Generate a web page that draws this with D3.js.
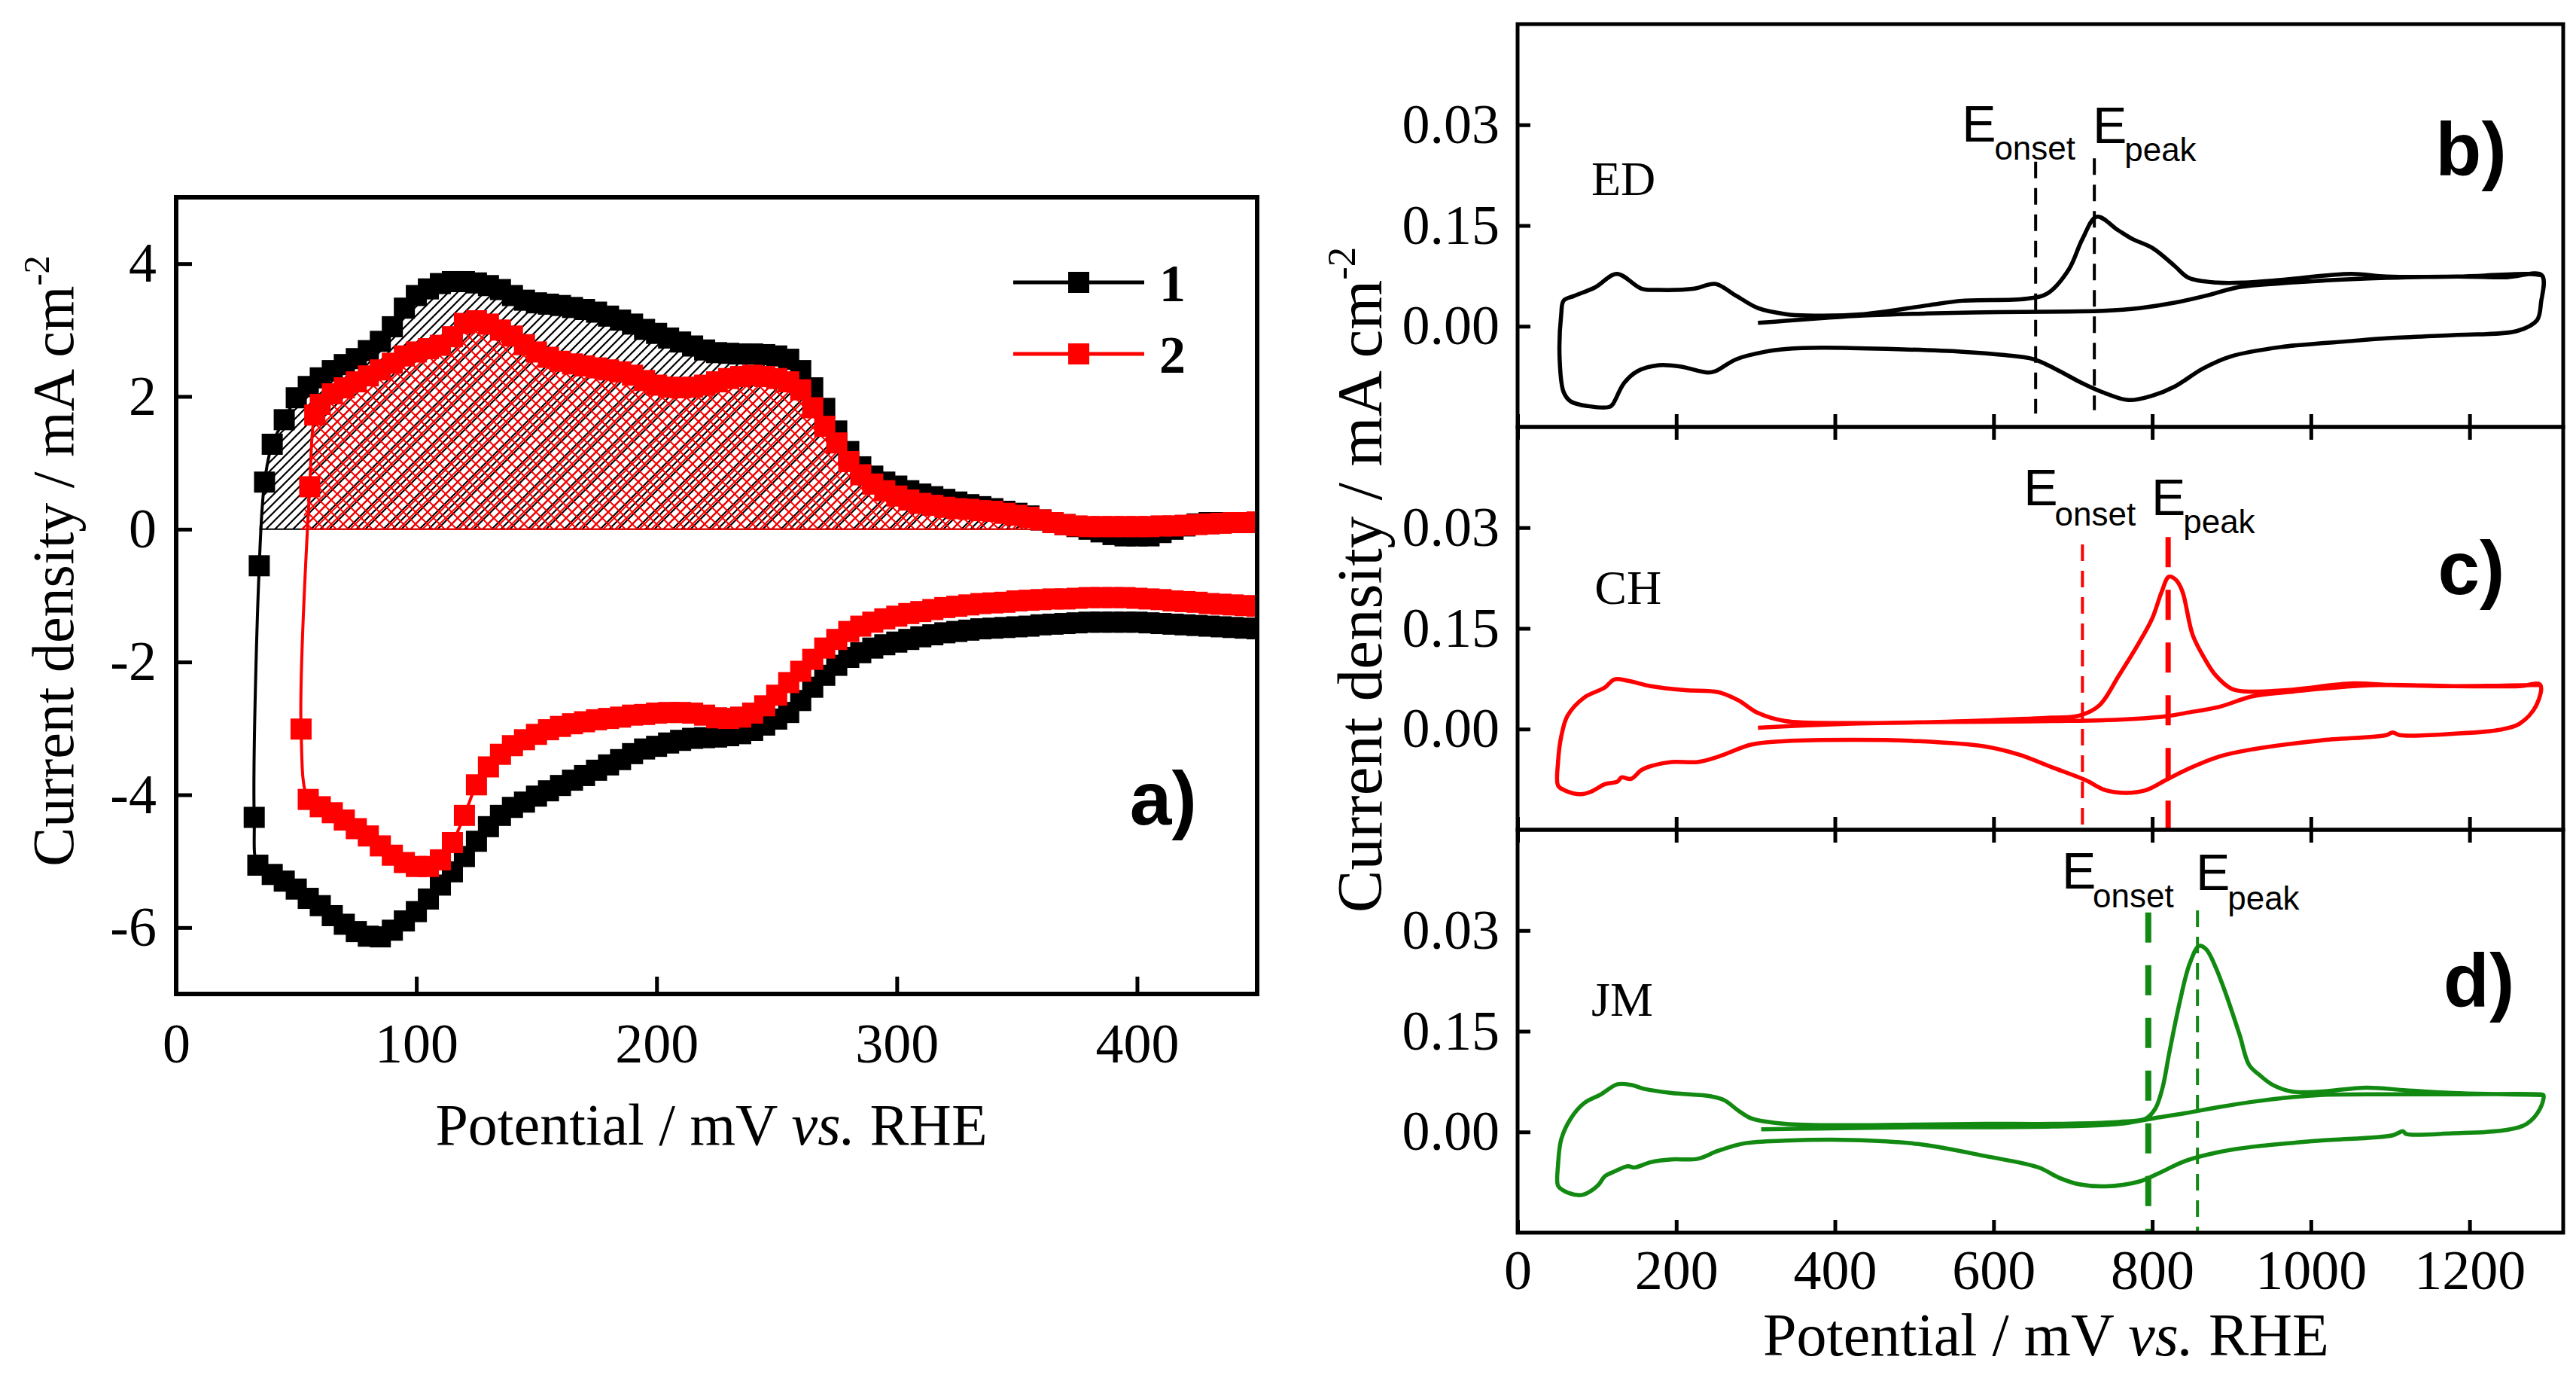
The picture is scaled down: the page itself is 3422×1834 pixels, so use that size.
<!DOCTYPE html>
<html>
<head>
<meta charset="utf-8">
<script src="https://cdn.jsdelivr.net/npm/d3@7"></script>
<style>
  body { margin: 0; background: #fff; }
  svg { display: block; }
</style>
</head>
<body>
<svg id="chart" width="3422" height="1834"></svg>
<script>
// ---------- panel a data (potential in mV, current density in mA cm-2) ----------
const potA = [
  40, 45, 50, 55, 60, 65, 70, 75, 80, 85,
  90, 95, 100, 105, 110, 115, 120, 125, 130, 135,
  140, 145, 150, 155, 160, 165, 170, 175, 180, 185,
  190, 195, 200, 205, 210, 215, 220, 225, 230, 235,
  240, 245, 250, 255, 260, 265, 270, 275, 280, 285,
  290, 295, 300, 305, 310, 315, 320, 325, 330, 335,
  340, 345, 350, 355, 360, 365, 370, 375, 380, 385,
  390, 395, 400, 405, 410, 415, 420, 425, 430, 435,
  440, 445, 450];

// series 1, forward (upper) and backward (lower) sweeps
const cur1Up = [
  1.28, 1.65, 1.98, 2.15, 2.28, 2.39, 2.48, 2.57, 2.69, 2.83,
  3.05, 3.33, 3.52, 3.62, 3.70, 3.73, 3.73, 3.71, 3.67, 3.61,
  3.52, 3.45, 3.41, 3.39, 3.37, 3.34, 3.31, 3.27, 3.21, 3.15,
  3.09, 3.01, 2.95, 2.88, 2.82, 2.76, 2.70, 2.66, 2.65, 2.64,
  2.64, 2.63, 2.61, 2.56, 2.39, 2.13, 1.82, 1.48, 1.17, 0.94,
  0.80, 0.71, 0.65, 0.58, 0.53, 0.49, 0.45, 0.41, 0.37, 0.34,
  0.31, 0.27, 0.24, 0.20, 0.14, 0.10, 0.07, 0.04, 0.00, -0.04,
  -0.08, -0.10, -0.10, -0.10, -0.05, 0.00, 0.05, 0.08, 0.10, 0.10,
  0.10, 0.10, 0.10];
const cur1Down = [
  -5.20, -5.30, -5.42, -5.56, -5.67, -5.82, -5.95, -6.06, -6.13, -6.14,
  -6.04, -5.90, -5.76, -5.57, -5.36, -5.16, -4.93, -4.70, -4.48, -4.31,
  -4.19, -4.11, -4.02, -3.94, -3.86, -3.78, -3.71, -3.63, -3.55, -3.47,
  -3.38, -3.31, -3.27, -3.22, -3.18, -3.15, -3.14, -3.13, -3.11, -3.08,
  -3.03, -2.95, -2.86, -2.76, -2.58, -2.38, -2.20, -2.05, -1.93, -1.86,
  -1.79, -1.74, -1.70, -1.66, -1.62, -1.59, -1.56, -1.54, -1.52, -1.50,
  -1.49, -1.48, -1.47, -1.46, -1.44, -1.43, -1.42, -1.41, -1.40, -1.40,
  -1.40, -1.40, -1.40, -1.41, -1.42, -1.43, -1.44, -1.45, -1.46, -1.47,
  -1.48, -1.49, -1.50];
const turn1Pot = [34, 32.5, 34.6, 36.8];
const turn1Cur = [-5.06, -4.34, -0.55, 0.71];

// series 2
const cur2Up = [
  null, null, null, null, 1.88, 2.04, 2.13, 2.22, 2.31, 2.40,
  2.50, 2.61, 2.67, 2.72, 2.77, 2.90, 3.10, 3.14, 3.09, 3.00,
  2.91, 2.78, 2.67, 2.59, 2.53, 2.49, 2.46, 2.43, 2.40, 2.37,
  2.32, 2.24, 2.17, 2.14, 2.13, 2.14, 2.17, 2.22, 2.27, 2.30,
  2.32, 2.30, 2.27, 2.22, 2.10, 1.83, 1.55, 1.30, 1.02, 0.82,
  0.68, 0.58, 0.50, 0.44, 0.39, 0.36, 0.33, 0.31, 0.30, 0.28,
  0.27, 0.24, 0.21, 0.18, 0.14, 0.10, 0.07, 0.05, 0.04, 0.04,
  0.04, 0.04, 0.04, 0.04, 0.05, 0.05, 0.06, 0.07, 0.08, 0.09,
  0.10, 0.10, 0.11];
const cur2Down = [
  null, null, null, -4.07, -4.18, -4.27, -4.38, -4.51, -4.62, -4.77,
  -4.91, -5.02, -5.08, -5.08, -4.98, -4.72, -4.31, -3.85, -3.58, -3.39,
  -3.26, -3.17, -3.09, -3.02, -2.97, -2.93, -2.90, -2.87, -2.85, -2.83,
  -2.80, -2.79, -2.77, -2.76, -2.76, -2.77, -2.80, -2.84, -2.85, -2.83,
  -2.77, -2.66, -2.50, -2.31, -2.14, -1.96, -1.79, -1.66, -1.54, -1.46,
  -1.40, -1.35, -1.31, -1.27, -1.24, -1.21, -1.18, -1.16, -1.14, -1.12,
  -1.11, -1.10, -1.08, -1.07, -1.06, -1.05, -1.05, -1.04, -1.03, -1.03,
  -1.03, -1.03, -1.04, -1.05, -1.06, -1.08, -1.09, -1.10, -1.12, -1.13,
  -1.14, -1.15, -1.16];
const turn2Pot = [52, 55.6, 57.7];
const turn2Cur = [-3.01, 0.64, 1.72];

const aTicksX = [0, 100, 200, 300, 400];
const aTicksY = [-6, -4, -2, 0, 2, 4];
const legendNames = ['1', '2'];

// ---------- panels b-d data ----------
const edPot = [303, 338, 383, 436, 516, 606, 695, 739, 784, 828, 873, 908, 962, 1051, 1095, 1184, 1247, 1291,
  1290, 1285, 1260, 1184, 1095, 1051, 962, 899, 864, 828, 801, 770, 739, 712, 677, 650, 614, 561, 472, 383,
  338, 312, 276, 249, 240, 205, 178, 151, 134, 120, 116, 89, 67, 58, 53, 55, 58,
  71, 98, 125, 156, 178, 223, 249, 276, 303, 338, 365, 436, 516, 561, 641, 668, 695, 712, 730, 757,
  775, 801, 828, 846, 882, 917, 962, 1051, 1095, 1184, 1273, 1291];
const edCur = [0.005, 0.008, 0.012, 0.016, 0.019, 0.021, 0.022, 0.023, 0.027, 0.035, 0.047, 0.058, 0.064, 0.070, 0.072, 0.074, 0.073, 0.076,
  0.035, 0.009, -0.007, -0.013, -0.018, -0.022, -0.031, -0.045, -0.063, -0.090, -0.103, -0.110, -0.099, -0.085, -0.063, -0.049, -0.043, -0.038, -0.034, -0.032,
  -0.034, -0.038, -0.049, -0.067, -0.069, -0.060, -0.058, -0.067, -0.085, -0.116, -0.120, -0.119, -0.112, -0.098, -0.049, 0.018, 0.038,
  0.045, 0.058, 0.078, 0.056, 0.054, 0.056, 0.063, 0.045, 0.027, 0.018, 0.016, 0.018, 0.031, 0.038, 0.041, 0.049, 0.085, 0.130, 0.163, 0.143,
  0.130, 0.116, 0.090, 0.072, 0.065, 0.065, 0.069, 0.078, 0.074, 0.074, 0.078, 0.076];

const chPot = [303, 354, 421, 505, 590, 674, 758, 817, 842, 884, 927, 969, 1053, 1095, 1179, 1263, 1289,
  1284, 1263, 1238, 1179, 1112, 1103, 1095, 1011, 927, 884, 842, 817, 792, 767, 741, 716, 674, 632, 590, 505,
  421, 337, 295, 253, 227, 194, 168, 156, 143, 131, 126, 110, 93, 80, 59, 51, 51, 55, 63,
  84, 110, 122, 139, 168, 211, 253, 278, 303, 337, 421, 505, 590, 674, 708, 733, 758, 783, 800, 812,
  821, 830, 838, 851, 866, 880, 900, 918, 969, 1053, 1095, 1179, 1289];
const chCur = [0.002, 0.005, 0.008, 0.010, 0.011, 0.012, 0.014, 0.019, 0.024, 0.033, 0.049, 0.055, 0.064, 0.066, 0.064, 0.064, 0.066,
  0.035, 0.008, -0.001, -0.007, -0.009, -0.005, -0.009, -0.017, -0.030, -0.041, -0.061, -0.076, -0.091, -0.095, -0.091, -0.076, -0.057, -0.038, -0.026, -0.018,
  -0.016, -0.018, -0.023, -0.041, -0.049, -0.049, -0.055, -0.061, -0.074, -0.072, -0.078, -0.082, -0.093, -0.097, -0.091, -0.084, -0.049, -0.011, 0.020,
  0.047, 0.062, 0.074, 0.072, 0.064, 0.058, 0.055, 0.043, 0.024, 0.012, 0.009, 0.010, 0.013, 0.017, 0.020, 0.035, 0.080, 0.128, 0.165, 0.205,
  0.227, 0.222, 0.205, 0.140, 0.105, 0.080, 0.060, 0.056, 0.058, 0.068, 0.066, 0.064, 0.066];

const jmPot = [307, 379, 505, 590, 674, 758, 800, 842, 884, 927, 969, 1011, 1095, 1179, 1289,
  1293, 1289, 1272, 1247, 1179, 1120, 1116, 1103, 1011, 927, 884, 842, 809, 783, 741, 708, 682, 657, 590, 505,
  421, 337, 286, 253, 227, 194, 168, 147, 139, 122, 110, 101, 84, 76, 59, 51, 51, 55, 67,
  84, 105, 126, 143, 160, 194, 244, 261, 278, 295, 337, 421, 505, 590, 674, 758, 792, 804, 813, 821,
  834, 847, 859, 868, 880, 893, 910, 922, 935, 952, 977, 1011, 1070, 1120, 1179, 1293];
const jmCur = [0.004, 0.005, 0.007, 0.007, 0.008, 0.012, 0.020, 0.028, 0.037, 0.045, 0.051, 0.055, 0.056, 0.056, 0.056,
  0.055, 0.035, 0.012, 0.003, -0.002, -0.003, 0.001, -0.005, -0.013, -0.022, -0.030, -0.043, -0.061, -0.074, -0.081, -0.078, -0.068, -0.053, -0.036, -0.018,
  -0.012, -0.013, -0.017, -0.028, -0.040, -0.041, -0.045, -0.053, -0.051, -0.059, -0.066, -0.080, -0.093, -0.094, -0.088, -0.080, -0.049, -0.011, 0.020,
  0.043, 0.056, 0.071, 0.070, 0.064, 0.058, 0.053, 0.047, 0.032, 0.020, 0.012, 0.010, 0.011, 0.012, 0.012, 0.015, 0.020, 0.035, 0.066, 0.115,
  0.190, 0.250, 0.277, 0.272, 0.245, 0.205, 0.145, 0.100, 0.085, 0.070, 0.060, 0.060, 0.066, 0.062, 0.058, 0.055];

const sampleNames = ['ED', 'CH', 'JM'];
const panelLetters = ['b)', 'c)', 'd)'];
const onsetPot = [653, 712, 795];
const peakPot = [727, 820, 857];
const rTicksX = [0, 200, 400, 600, 800, 1000, 1200];
const rTicksY = [0, 0.15, 0.30];
const rTickLabels = ['0.00', '0.15', '0.03'];

// ---------- drawing ----------
const serif = '"Liberation Serif", "Times New Roman", serif';
const sans = '"Liberation Sans", Arial, sans-serif';
const svg = d3.select('#chart');
const defs = svg.append('defs');

const pHatch = defs.append('pattern').attr('id', 'hatch1')
  .attr('patternUnits', 'userSpaceOnUse').attr('width', 12).attr('height', 12);
pHatch.append('path').attr('d', 'M-2,2 L2,-2 M0,12 L12,0 M10,14 L14,10')
  .attr('stroke', '#000').attr('stroke-width', 2.2);
const pCross = defs.append('pattern').attr('id', 'cross2')
  .attr('patternUnits', 'userSpaceOnUse').attr('width', 16).attr('height', 16);
pCross.append('path').attr('d', 'M0,16 L16,0 M-2,2 L2,-2 M14,18 L18,14 M0,0 L16,16 M-2,14 L2,18 M14,-2 L18,2')
  .attr('stroke', '#ff0000').attr('stroke-width', 2);

// ----- panel a -----
const aDim = { left: 234, right: 1670, top: 262, bottom: 1320 };
const xA = d3.scaleLinear().domain([0, 450]).range([aDim.left, aDim.right]);
const yA = d3.scaleLinear().domain([-7, 5]).range([aDim.bottom, aDim.top]);

defs.append('clipPath').attr('id', 'clipA').append('rect')
  .attr('x', aDim.left).attr('y', aDim.top)
  .attr('width', aDim.right - aDim.left).attr('height', aDim.bottom - aDim.top);

const pairs = (xs, ys) => xs.map((p, i) => [p, ys[i]]).filter(d => d[1] !== null);
const loop1 = [...pairs(potA, cur1Down).reverse(), ...pairs(turn1Pot, turn1Cur), ...pairs(potA, cur1Up)];
const loop2 = [...pairs(potA, cur2Down).reverse(), ...pairs(turn2Pot, turn2Cur), ...pairs(potA, cur2Up)];
const fill1 = [...pairs(turn1Pot, turn1Cur).slice(2), ...pairs(potA, cur1Up)];
const fill2 = [...pairs(turn2Pot, turn2Cur), ...pairs(potA, cur2Up)];

const gA = svg.append('g').attr('clip-path', 'url(#clipA)');
const areaA = d3.area().x(d => xA(d[0])).y0(yA(0)).y1(d => yA(Math.max(0, d[1])));
const lineA = d3.line().x(d => xA(d[0])).y(d => yA(d[1])).curve(d3.curveCatmullRom.alpha(0.5));

gA.append('path').attr('d', areaA(fill1)).attr('fill', 'url(#hatch1)');
gA.append('path').attr('d', areaA(fill2)).attr('fill', 'url(#cross2)');
const base1 = fill1.filter(d => d[1] > 0);
const base2 = fill2.filter(d => d[1] > 0);
gA.append('line').attr('x1', xA(fill1[0][0])).attr('x2', xA(base1[base1.length - 1][0]))
  .attr('y1', yA(0)).attr('y2', yA(0)).attr('stroke', '#000').attr('stroke-width', 2);
gA.append('line').attr('x1', xA(fill2[0][0])).attr('x2', xA(base2[base2.length - 1][0]))
  .attr('y1', yA(0)).attr('y2', yA(0)).attr('stroke', '#ff0000').attr('stroke-width', 2);

const seriesA = [
  { pts: loop1, color: '#000000' },
  { pts: loop2, color: '#ff0000' },
];
const mk = 28;
seriesA.forEach(s => {
  gA.append('path').attr('d', lineA(s.pts)).attr('fill', 'none')
    .attr('stroke', s.color).attr('stroke-width', 4);
  gA.append('g').selectAll('rect').data(s.pts).join('rect')
    .attr('x', d => xA(d[0]) - mk / 2).attr('y', d => yA(d[1]) - mk / 2)
    .attr('width', mk).attr('height', mk).attr('fill', s.color);
});

const axA_y = svg.append('g').attr('transform', `translate(${aDim.left},0)`)
  .call(d3.axisLeft(yA).tickValues(aTicksY).tickSize(-21).tickPadding(26).tickFormat(d => String(d)));
const axA_x = svg.append('g').attr('transform', `translate(0,${aDim.bottom})`)
  .call(d3.axisBottom(xA).tickValues(aTicksX).tickSize(-23).tickPadding(38));
[axA_y, axA_x].forEach(g => {
  g.select('.domain').remove();
  g.selectAll('line').attr('stroke-width', 5);
  g.selectAll('text').attr('font-family', serif).attr('font-size', 74).attr('fill', '#000');
});

svg.append('rect').attr('x', aDim.left).attr('y', aDim.top)
  .attr('width', aDim.right - aDim.left).attr('height', aDim.bottom - aDim.top)
  .attr('fill', 'none').attr('stroke', '#000').attr('stroke-width', 6);

// legend
['#000000', '#ff0000'].forEach((c, i) => {
  const ly = aDim.top + 113 + i * 95;
  svg.append('line').attr('x1', aDim.right - 324).attr('x2', aDim.right - 150)
    .attr('y1', ly).attr('y2', ly).attr('stroke', c).attr('stroke-width', 5);
  svg.append('rect').attr('x', aDim.right - 237 - mk / 2).attr('y', ly - mk / 2)
    .attr('width', mk).attr('height', mk).attr('fill', c);
  svg.append('text').attr('x', aDim.right - 130).attr('y', ly + 25)
    .attr('font-family', serif).attr('font-weight', 'bold').attr('font-size', 70)
    .text(legendNames[i]);
});

svg.append('text').attr('x', xA(397)).attr('y', yA(-4.45))
  .attr('font-family', sans).attr('font-weight', 'bold').attr('font-size', 100).text('a)');

function yTitle(x, y, size) {
  const t = svg.append('text').attr('transform', `translate(${x},${y}) rotate(-90)`)
    .attr('text-anchor', 'middle').attr('font-family', serif).attr('font-size', size);
  t.append('tspan').text('Current density / mA cm');
  t.append('tspan').attr('dy', -size * 0.41).attr('font-size', size * 0.62).text('-2');
}
function xTitle(x, y, size) {
  const t = svg.append('text').attr('x', x).attr('y', y)
    .attr('text-anchor', 'middle').attr('font-family', serif).attr('font-size', size);
  t.append('tspan').text('Potential / mV ');
  t.append('tspan').attr('font-style', 'italic').text('vs.');
  t.append('tspan').text(' RHE');
}
yTitle(97, 745, 78);
xTitle(945, 1520, 78);

// ----- panels b, c, d -----
const rDim = { left: 2016, right: 3405, top: 32, h: 535 };
const xR = d3.scaleLinear().domain([0, 1318]).range([rDim.left, rDim.right]);
const thinDash = '22,13';
const thickDash = '40,30';
const panels = [
  { pot: edPot, cur: edCur, color: '#000000',
    eOn: [560, 0.275], sOn: [601, 0.248], ePk: [725, 0.273], sPk: [765, 0.246],
    onTop: 0.245, onBot: -0.13, pkTop: 0.25, pkBot: -0.125,
    onW: 4, pkW: 4, onDash: thinDash, pkDash: thinDash,
    name: [93, 0.195], letter: [1157, 0.225] },
  { pot: chPot, cur: chCur, color: '#ff0000',
    eOn: [638, 0.333], sOn: [677, 0.303], ePk: [799, 0.319], sPk: [839, 0.292],
    onTop: 0.275, onBot: -0.15, pkTop: 0.286, pkBot: -0.15,
    onW: 4, pkW: 7, onDash: thinDash, pkDash: thickDash,
    name: [97, 0.187], letter: [1160, 0.201] },
  { pot: jmPot, cur: jmCur, color: '#128a12',
    eOn: [686, 0.363], sOn: [725, 0.335], ePk: [855, 0.36], sPk: [895, 0.331],
    onTop: 0.327, onBot: -0.15, pkTop: 0.33, pkBot: -0.15,
    onW: 8, pkW: 4, onDash: thickDash, pkDash: thinDash,
    name: [93, 0.173], letter: [1167, 0.187] },
];

panels.forEach((p, i) => {
  const top = rDim.top + i * rDim.h;
  const yR = d3.scaleLinear().domain([-0.15, 0.45]).range([top + rDim.h, top]);
  const g = svg.append('g');
  const line = d3.line().x(d => xR(d[0])).y(d => yR(d[1])).curve(d3.curveCatmullRom.alpha(0.5));
  g.append('path').attr('d', line(pairs(p.pot, p.cur))).attr('fill', 'none')
    .attr('stroke', p.color).attr('stroke-width', 5.5).attr('stroke-linejoin', 'round');

  g.append('line').attr('x1', xR(onsetPot[i])).attr('x2', xR(onsetPot[i]))
    .attr('y1', yR(p.onTop)).attr('y2', yR(p.onBot))
    .attr('stroke', p.color).attr('stroke-width', p.onW).attr('stroke-dasharray', p.onDash);
  g.append('line').attr('x1', xR(peakPot[i])).attr('x2', xR(peakPot[i]))
    .attr('y1', yR(p.pkTop)).attr('y2', yR(p.pkBot))
    .attr('stroke', p.color).attr('stroke-width', p.pkW).attr('stroke-dasharray', p.pkDash);

  const txt = (pos, s, size, fam, weight) => g.append('text')
    .attr('x', xR(pos[0])).attr('y', yR(pos[1]))
    .attr('font-family', fam).attr('font-size', size).attr('font-weight', weight || 'normal').text(s);
  txt(p.eOn, 'E', 68, sans);
  txt(p.sOn, 'onset', 44, sans);
  txt(p.ePk, 'E', 68, sans);
  txt(p.sPk, 'peak', 44, sans);
  txt(p.name, sampleNames[i], 64, serif);
  txt(p.letter, panelLetters[i], 100, sans, 'bold');

  const ay = g.append('g').attr('transform', `translate(${rDim.left},0)`)
    .call(d3.axisLeft(yR).tickValues(rTicksY).tickSize(-17).tickPadding(24)
      .tickFormat((d, k) => rTickLabels[k]));
  const ab = g.append('g').attr('transform', `translate(0,${top + rDim.h})`)
    .call(d3.axisBottom(xR).tickValues(rTicksX).tickSize(-17).tickPadding(22)
      .tickFormat(i === 2 ? d => String(d) : () => ''));
  const axes = [ay, ab];
  if (i > 0) {
    axes.push(g.append('g').attr('transform', `translate(0,${top})`)
      .call(d3.axisTop(xR).tickValues(rTicksX).tickSize(-17).tickFormat(() => '')));
  }
  axes.forEach(a => {
    a.select('.domain').remove();
    a.selectAll('line').attr('stroke-width', 5);
    a.selectAll('text').attr('font-family', serif).attr('font-size', 74).attr('fill', '#000');
  });

  g.append('rect').attr('x', rDim.left).attr('y', top)
    .attr('width', rDim.right - rDim.left).attr('height', rDim.h)
    .attr('fill', 'none').attr('stroke', '#000').attr('stroke-width', 5);
});

yTitle(1835, 770, 85);
xTitle(2718, 1800, 80);
</script>
</body>
</html>
